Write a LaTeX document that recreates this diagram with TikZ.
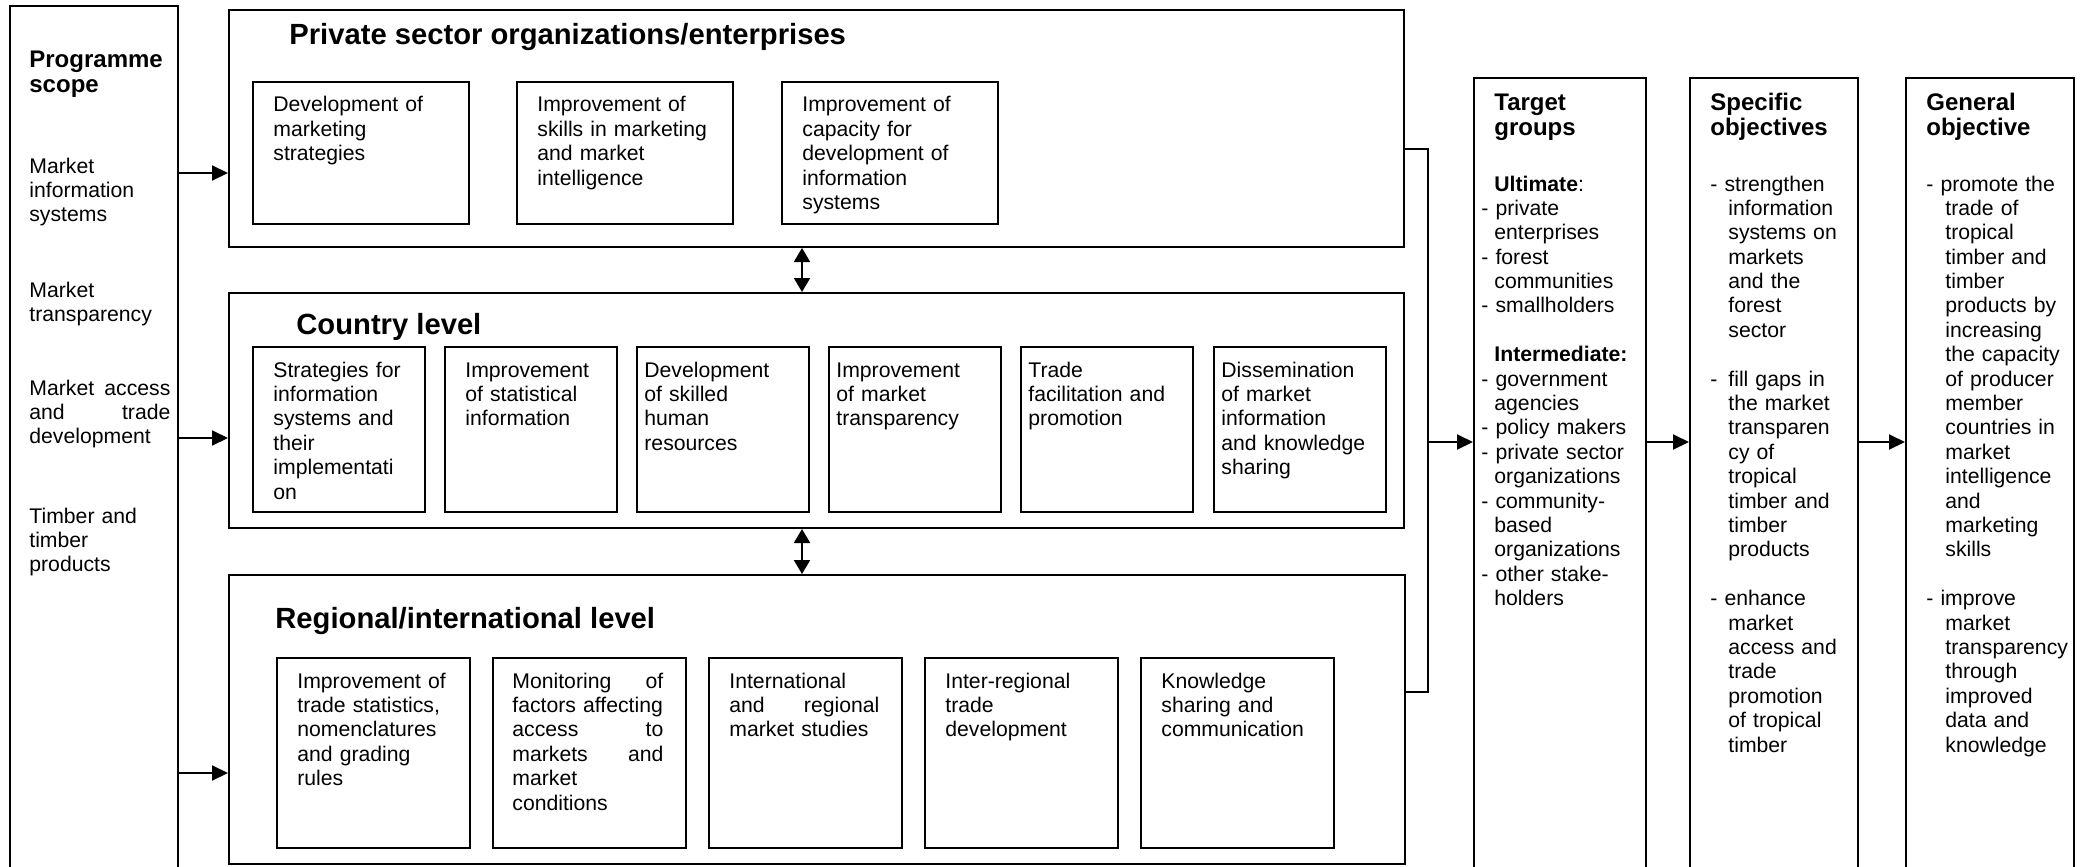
\documentclass[tikz,border=0pt]{standalone}
\usepackage{fontspec}
\setmainfont{Liberation Sans}
\usetikzlibrary{arrows.meta}
\newcommand{\ind}[1]{\hspace*{#1}}
\tikzset{box/.style = {draw, line width = 1pt, anchor = north west, inner sep = 0}}
\tikzset{pbox/.style = {box, minimum width = 108pt, minimum height = 71pt}}
\tikzset{cbox/.style = {box, minimum width = 86pt, minimum height = 82.5pt}}
\tikzset{rbox/.style = {box, minimum width = 96.5pt, minimum height = 95pt}}
\tikzset{col/.style = {box, minimum width = 84pt, minimum height = 411.5pt}}
\tikzset{txt/.style = {anchor = base west, align = left, text width = 90pt, inner sep = 0, font = \fontsize{10.6}{12.2}\selectfont}}
\tikzset{head/.style = {anchor = base west, align = left, text width = 80pt, inner sep = 0, font = \fontsize{12}{12.8}\selectfont\bfseries}}
\tikzset{title/.style = {anchor = base west, inner sep = 0, font = \fontsize{14.6}{16}\selectfont\bfseries}}
\tikzset{arr/.style = {line width = 1pt, -{Triangle[length = 8pt, width = 7.5pt]}}}
\tikzset{darr/.style = {line width = 1pt, {Triangle[length = 7pt, width = 8pt]}-{Triangle[length = 7pt, width = 8pt]}}}

\begin{document}
\begin{tikzpicture}[x = 0.5pt, y = -0.5pt]

    \path [use as bounding box, fill = white] (0, 0) rectangle (2085, 867);

    \node [box, minimum width = 84pt, minimum height = 450pt] (scope) at (9, 5) {};
    \node [head] (scopeh) at (29, 67) {Programme\\scope};
    \node [txt] (s1) at (29, 173) {Market\\information\\systems};
    \node [txt] (s2) at (29, 297) {Market\\transparency};
    \node [txt] (s3) at (29, 395) {\makebox[70.5pt][l]{Market\hfill access}\\\makebox[70.5pt][l]{and\hfill trade}\\development};
    \node [txt] (s4) at (29, 523) {Timber and\\timber\\products};

    \node [box, minimum width = 587.5pt, minimum height = 118.5pt] (priv) at (228, 9) {};
    \node [title] (privt) at (289, 45) {Private sector organizations/enterprises};
    \node [pbox] (p1) at (252, 81) {};
    \node [pbox] (p2) at (516, 81) {};
    \node [pbox] (p3) at (781, 81) {};
    \node [txt] (p1t) at ([shift = {(21, 31)}] p1.north west) {Development of\\marketing\\strategies};
    \node [txt] (p2t) at ([shift = {(21, 31)}] p2.north west) {Improvement of\\skills in marketing\\and market\\intelligence};
    \node [txt] (p3t) at ([shift = {(21, 31)}] p3.north west) {Improvement of\\capacity for\\development of\\information\\systems};

    \node [box, minimum width = 587.5pt, minimum height = 117.5pt] (ctry) at (228, 292) {};
    \node [title] (ctryt) at (296, 334) {Country level};
    \node [cbox] (c1) at (252, 346) {};
    \node [cbox] (c2) at (444, 346) {};
    \node [cbox] (c3) at (636, 346) {};
    \node [cbox] (c4) at (828, 346) {};
    \node [cbox] (c5) at (1020, 346) {};
    \node [cbox] (c6) at (1213, 346) {};
    \node [txt] (c1t) at ([shift = {(21, 31)}] c1.north west) {Strategies for\\information\\systems and\\their\\implementati\\on};
    \node [txt] (c2t) at ([shift = {(21, 31)}] c2.north west) {Improvement\\of statistical\\information};
    \node [txt] (c3t) at ([shift = {(8, 31)}] c3.north west) {Development\\of skilled\\human\\resources};
    \node [txt] (c4t) at ([shift = {(8, 31)}] c4.north west) {Improvement\\of market\\transparency};
    \node [txt] (c5t) at ([shift = {(8, 31)}] c5.north west) {Trade\\facilitation and\\promotion};
    \node [txt] (c6t) at ([shift = {(8, 31)}] c6.north west) {Dissemination\\of market\\information\\and knowledge\\sharing};

    \node [box, minimum width = 588pt, minimum height = 144.5pt] (regn) at (228, 574) {};
    \node [title] (regnt) at (275, 628) {Regional/international level};
    \node [rbox] (r1) at (276, 657) {};
    \node [rbox] (r2) at (492, 657) {};
    \node [rbox] (r3) at (708, 657) {};
    \node [rbox] (r4) at (924, 657) {};
    \node [rbox] (r5) at (1140, 657) {};
    \node [txt] (r1t) at ([shift = {(21, 31)}] r1.north west) {Improvement of\\trade statistics,\\nomenclatures\\and grading\\rules};
    \node [txt] (r2t) at ([shift = {(20, 31)}] r2.north west) {\makebox[75.5pt][l]{Monitoring\hfill of}\\factors affecting\\\makebox[75.5pt][l]{access\hfill to}\\\makebox[75.5pt][l]{markets\hfill and}\\market\\conditions};
    \node [txt] (r3t) at ([shift = {(21, 31)}] r3.north west) {International\\\makebox[75pt][l]{and\hfill regional}\\market studies};
    \node [txt] (r4t) at ([shift = {(21, 31)}] r4.north west) {Inter-regional\\trade\\development};
    \node [txt] (r5t) at ([shift = {(21, 31)}] r5.north west) {Knowledge\\sharing and\\communication};

    \node [col, minimum width = 86pt] (target) at (1473, 77) {};
    \node [head] (targeth) at (1494, 110) {Target\\groups};
    \node [txt] (targetb) at (1481, 191) {\ind{6.5pt}\textbf{Ultimate}:\\- private\\\ind{6.5pt}enterprises\\- forest\\\ind{6.5pt}communities\\- smallholders\\[12.2pt]
      \ind{6.5pt}\textbf{Intermediate:}\\- government\\\ind{6.5pt}agencies\\- policy makers\\- private sector\\\ind{6.5pt}organizations\\- community-\\\ind{6.5pt}based\\\ind{6.5pt}organizations\\- other stake-\\\ind{6.5pt}holders};

    \node [col] (spec) at (1689, 77) {};
    \node [head] (spech) at (1710, 110) {Specific\\objectives};
    \node [txt] (specb) at (1710, 191) {- strengthen\\\ind{9pt}information\\\ind{9pt}systems on\\\ind{9pt}markets\\\ind{9pt}and the\\\ind{9pt}forest\\\ind{9pt}sector\\[12.2pt]
      \makebox[9pt][l]{-}fill gaps in\\\ind{9pt}the market\\\ind{9pt}transparen\\\ind{9pt}cy of\\\ind{9pt}tropical\\\ind{9pt}timber and\\\ind{9pt}timber\\\ind{9pt}products\\[12.2pt]
      - enhance\\\ind{9pt}market\\\ind{9pt}access and\\\ind{9pt}trade\\\ind{9pt}promotion\\\ind{9pt}of tropical\\\ind{9pt}timber};

    \node [col] (gen) at (1905, 77) {};
    \node [head] (genh) at (1926, 110) {General\\objective};
    \node [txt] (genb) at (1926, 191) {- promote the\\\ind{9.5pt}trade of\\\ind{9.5pt}tropical\\\ind{9.5pt}timber and\\\ind{9.5pt}timber\\\ind{9.5pt}products by\\\ind{9.5pt}increasing\\\ind{9.5pt}the capacity\\\ind{9.5pt}of producer\\\ind{9.5pt}member\\\ind{9.5pt}countries in\\\ind{9.5pt}market\\\ind{9.5pt}intelligence\\\ind{9.5pt}and\\\ind{9.5pt}marketing\\\ind{9.5pt}skills\\[12.2pt]
      - improve\\\ind{9.5pt}market\\\ind{9.5pt}transparency\\\ind{9.5pt}through\\\ind{9.5pt}improved\\\ind{9.5pt}data and\\\ind{9.5pt}knowledge};

    \coordinate (lp) at (0, 173);
    \coordinate (lc) at (0, 438);
    \coordinate (lr) at (0, 773);
    \coordinate (mid) at (802, 0);
    \coordinate (bt) at (0, 149);
    \coordinate (bb) at (0, 692);
    \coordinate (join) at (1428, 442);

    \draw [arr] (scope.east |- lp) -- (priv.west |- lp);
    \draw [arr] (scope.east |- lc) -- (ctry.west |- lc);
    \draw [arr] (scope.east |- lr) -- (regn.west |- lr);
    \draw [darr] (priv.south -| mid) -- (ctry.north -| mid);
    \draw [darr] (ctry.south -| mid) -- (regn.north -| mid);
    \draw [line width = 1pt] (priv.east |- bt) -| (join) |- (regn.east |- bb);
    \draw [arr] (join) -- (target.west |- join);
    \draw [arr] (target.east |- join) -- (spec.west |- join);
    \draw [arr] (spec.east |- join) -- (gen.west |- join);
  \end{tikzpicture}
\end{document}
